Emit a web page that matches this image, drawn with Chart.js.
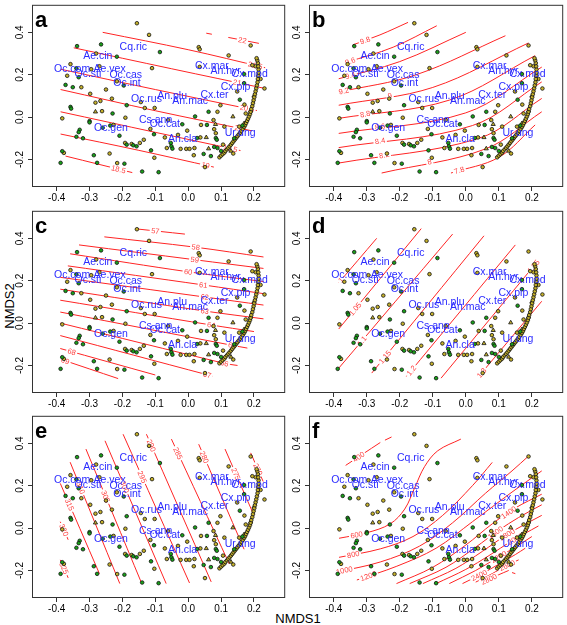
<!DOCTYPE html>
<html>
<head>
<meta charset="utf-8">
<script src="https://cdn.jsdelivr.net/npm/chart.js@4.4.0/dist/chart.umd.min.js"></script>
<style>
  body { margin: 0; background: #fff; width: 567px; height: 625px; position: relative; overflow: hidden; font-family: "Liberation Sans", Arial, sans-serif; }
  canvas { position: absolute; }
  .axlab { position: absolute; font-size: 13px; color: #000; white-space: nowrap; transform: translate(-50%, -50%); }
</style>
</head>
<body>
<div class="axlab" style="left:298px; top:618px;">NMDS1</div>
<div class="axlab" style="left:9px; top:306px; transform: translate(-50%, -50%) rotate(-90deg);">NMDS2</div>
<script>
// site scores (same in every panel)
const greenPts = [[-0.086,0.307],[-0.338,0.335],[-0.265,0.343],[-0.217,0.285],[-0.333,0.188],[-0.34,0.23],[-0.373,0.152],[-0.351,0.141],[-0.196,0.149],[-0.187,0.056],[-0.358,0.048],[-0.356,0.04],[-0.23,0.017],[-0.3,-0.019],[-0.3,-0.025],[-0.33,-0.06],[-0.333,-0.071],[-0.34,-0.093],[-0.32,-0.1],[-0.26,-0.05],[-0.237,-0.04],[-0.209,-0.088],[-0.187,-0.13],[-0.167,-0.133],[-0.157,-0.138],[-0.383,-0.161],[-0.388,-0.216],[-0.287,-0.18],[-0.277,-0.216],[-0.194,-0.22],[-0.14,-0.257],[-0.09,-0.26],[-0.113,-0.157],[-0.104,-0.081],[-0.053,-0.122],[-0.051,-0.138],[-0.048,-0.149],[-0.018,-0.034],[0.021,0.003],[0.057,-0.037],[0.027,-0.099],[0.047,-0.174],[0.069,-0.184],[0.17,0.203],[0.17,0.16],[0.157,0.082],[0.062,0.025],[0.084,-0.099],[0.087,-0.107],[0.079,-0.141],[0.089,-0.146],[0.1,-0.16],[0.14,-0.1],[0.165,-0.04]];
const olivePts = [[-0.156,0.443],[-0.119,0.388],[-0.11,0.231],[-0.28,0.3],[-0.358,0.25],[-0.368,0.195],[-0.325,0.141],[-0.27,0.24],[-0.295,0.226],[-0.25,0.13],[-0.217,0.169],[-0.298,0.11],[-0.267,0.076],[-0.282,0.068],[-0.232,0.087],[-0.262,0.028],[-0.383,-0.006],[-0.191,-0.003],[-0.227,-0.037],[-0.192,-0.122],[-0.172,-0.127],[-0.147,-0.122],[-0.135,-0.107],[-0.378,-0.169],[-0.239,-0.172],[-0.216,-0.217],[-0.103,-0.192],[-0.132,0.043],[-0.144,0.071],[-0.102,0.043],[-0.061,-0.014],[-0.115,-0.056],[-0.071,-0.096],[-0.065,-0.146],[-0.003,-0.064],[-0.031,-0.084],[-0.023,-0.15],[-0.006,-0.15],[0.004,-0.15],[0.019,-0.146],[0.039,-0.037],[0.037,-0.096],[0.017,-0.18],[0.051,-0.236],[0.032,0.33],[0.035,0.32],[0.035,0.237],[0.123,0.291],[0.19,0.338],[0.149,0.121],[0.098,0.056],[0.171,0.059],[0.089,0.025],[0.077,-0.014],[0.079,-0.057],[0.084,-0.076],[0.11,-0.045],[0.106,-0.13],[0.137,-0.172],[0.155,-0.045],[0.175,0.017],[0.205,0.24],[0.195,0.245],[0.22,0.18],[0.232,0.135]];
const chainPts = [[0.095,-0.19],[0.1,-0.182],[0.105,-0.175],[0.11,-0.168],[0.113,-0.16],[0.118,-0.152],[0.122,-0.145],[0.126,-0.138],[0.13,-0.13],[0.134,-0.122],[0.138,-0.114],[0.142,-0.106],[0.146,-0.098],[0.15,-0.09],[0.154,-0.082],[0.158,-0.074],[0.162,-0.065],[0.166,-0.056],[0.17,-0.047],[0.173,-0.038],[0.176,-0.028],[0.179,-0.018],[0.182,-0.008],[0.185,0.003],[0.188,0.014],[0.19,0.025],[0.192,0.038],[0.195,0.052],[0.197,0.066],[0.199,0.08],[0.201,0.094],[0.203,0.108],[0.205,0.122],[0.207,0.136],[0.209,0.15],[0.211,0.165],[0.212,0.18],[0.213,0.195],[0.214,0.21],[0.214,0.225],[0.213,0.24],[0.212,0.255],[0.21,0.268],[0.208,0.278]];
const triPts = [[-0.282,0.025],[0.055,-0.096],[0.062,-0.149],[0.083,-0.034],[0.136,0.002],[0.19,0.03],[0.17,-0.03],[0.2,0.1],[0.13,-0.16]];

// species scores
const speciesNames = ['Cq.ric','Ae.cin','Oc.com','Ae.vex','Oc.sti','Oc.cas','Oc.int','Cx.mar','An.hyr','Cx.mod','Cx.pip','Cx.ter','An.plu','An.mac','Oc.rus','Cs.ann','Oc.cat','Oc.gen','An.cla','Ur.ung'];
const speciesX = [-0.167,-0.275,-0.353,-0.239,-0.305,-0.19,-0.186,0.072,0.114,0.187,0.144,0.08,-0.049,0.006,-0.127,-0.099,-0.071,-0.235,-0.017,0.158];
const speciesY = [0.332,0.288,0.226,0.226,0.203,0.2,0.161,0.242,0.216,0.203,0.141,0.102,0.098,0.074,0.084,-0.014,-0.034,-0.053,-0.102,-0.076];

const xTicks = [-0.4,-0.3,-0.2,-0.1,0,0.1,0.2];
const yTicks = [-0.2,0,0.2,0.4];

// fitted surfaces (contour levels, lines, label x position)
const levelsA = ['22','21.5','21','20.5','20','19.5','19','18.5'];
const linesA = [
  [[0.055,0.396],[0.072,0.391],null,[0.122,0.376],[0.215,0.348]],
  [[-0.26,0.4],[0.0,0.318],[0.234,0.233]],
  [[-0.348,0.327],[-0.05,0.228],[0.231,0.136]],
  [[-0.388,0.226],[-0.1,0.13],[0.209,0.031]],
  [[-0.388,0.13],[-0.1,0.03],[0.194,-0.065]],
  [[-0.388,0.025],[-0.1,-0.072],[0.159,-0.158]],
  [[-0.388,-0.08],[-0.15,-0.157],[0.078,-0.236]],
  [[-0.373,-0.184],[-0.17,-0.262]]
];
const labXA = [0.165,0.204,0.149,0.179,0.154,0.128,0.053,-0.212];

const levelsB = ['9.8','9.6','9.4','9.2','9','8.8','8.6','8.4','8.2','8','7.8'];
const linesB = [
  [[-0.342,0.341],[-0.26,0.388],[-0.175,0.447]],
  [[-0.36,0.259],[-0.22,0.33],[-0.088,0.431]],
  [[-0.385,0.181],[-0.2,0.262],[0.0,0.4]],
  [[-0.385,0.118],[-0.15,0.2],[0.12,0.384]],
  [[-0.385,0.056],[-0.1,0.14],[0.19,0.35]],
  [[-0.385,-0.006],[-0.05,0.08],[0.21,0.29]],
  [[-0.385,-0.077],[0.0,0.02],[0.23,0.236]],
  [[-0.385,-0.144],[0.02,-0.04],[0.23,0.166]],
  [[-0.385,-0.217],[0.04,-0.1],[0.23,0.088]],
  [[-0.255,-0.264],[0.06,-0.15],[0.23,0.025]],
  [[-0.045,-0.264],[0.1,-0.19],[0.21,-0.037]]
];
const labXB = [-0.305,-0.35,-0.35,-0.37,-0.23,-0.305,-0.26,-0.26,-0.247,-0.11,-0.02];

const levelsC = ['57','58','59','60','61','62','63','64','65','66','67','68','69'];
const linesC = [
  [[-0.16,0.445],[-0.01,0.42]],
  [[-0.255,0.407],[0.023,0.358],[0.229,0.312]],
  [[-0.332,0.369],[0.02,0.299],[0.229,0.258]],
  [[-0.359,0.327],[0.0,0.242],[0.229,0.196]],
  [[-0.366,0.27],[0.046,0.18],[0.229,0.139]],
  [[-0.389,0.216],[0.05,0.123],[0.229,0.085]],
  [[-0.389,0.16],[0.05,0.057],[0.229,0.02]],
  [[-0.389,0.108],[0.07,-0.009],[0.2,-0.04]],
  [[-0.389,0.052],[0.134,-0.105],[0.18,-0.118]],
  [[-0.389,0.0],[0.11,-0.19],[0.15,-0.2]],
  [[-0.389,-0.059],[0.058,-0.244],[0.075,-0.25]],
  [[-0.389,-0.12],[-0.1,-0.245]],
  [[-0.389,-0.17],[-0.213,-0.262]]
];
const labXC = [-0.1,0.023,0.02,0.0,0.046,0.05,0.05,0.07,0.134,0.11,0.058,-0.354,-0.374];

const levelsD = ['1','1.05','1.1','1.15','1.2','1.25','1.3'];
const linesD = [
  [[-0.385,0.19],[-0.27,0.4]],
  [[-0.385,-0.028],[-0.135,0.446]],
  [[-0.385,-0.213],[-0.04,0.42]],
  [[-0.285,-0.236],[0.055,0.412]],
  [[-0.18,-0.252],[0.15,0.369]],
  [[-0.075,-0.26],[0.22,0.296]],
  [[0.04,-0.25],[0.23,0.103]]
];
const labXD = [-0.378,-0.335,-0.315,-0.245,-0.165,0.205,0.048];

const levelsE = ['270','275','280','285','290','295','300','305','310','315','320','325'];
const linesE = [
  [[0.19,0.355],[0.228,0.22]],
  [[0.112,0.373],[0.2,0.06]],
  [[0.032,0.396],[0.17,-0.1]],
  [[-0.051,0.42],[0.125,-0.169]],
  [[-0.127,0.443],[0.07,-0.254]],
  [[-0.198,0.443],[0.004,-0.259]],
  [[-0.253,0.412],[-0.067,-0.262]],
  [[-0.311,0.373],[-0.142,-0.259]],
  [[-0.359,0.311],[-0.208,-0.262]],
  [[-0.389,0.211],[-0.27,-0.215]],
  [[-0.389,0.03],[-0.365,-0.055]],
  [[-0.389,-0.15],[-0.365,-0.235]]
];
const labXE = [0.212,0.145,0.049,-0.031,-0.112,-0.14,-0.193,-0.251,-0.327,-0.361,-0.378,-0.378];

const levelsF = ['400','600','800','1000','1200','1400','1600','1800','2000','2200','2400','2600','2800'];
const linesF = [
  [[-0.364,0.296],[-0.259,0.404],null,[-0.245,0.415],[-0.225,0.43]],
  [[-0.384,-0.048],[-0.3,-0.022],[-0.229,0.02],[-0.185,0.09],[-0.155,0.19],[-0.125,0.29],[-0.085,0.365],[-0.015,0.42]],
  [[-0.384,-0.138],[-0.259,-0.098],[-0.16,-0.04],[-0.07,0.06],[0.02,0.2],[0.08,0.31]],
  [[-0.389,-0.207],[-0.259,-0.16],[-0.14,-0.085],[-0.04,0.025],[0.06,0.165],[0.14,0.27],[0.19,0.34]],
  [[-0.33,-0.245],[-0.209,-0.18],[-0.09,-0.095],[0.02,0.03],[0.14,0.17],[0.23,0.27]],
  [[-0.21,-0.262],[-0.1,-0.185],[0.0,-0.08],[0.08,0.02],[0.15,0.095],[0.23,0.16]],
  [[-0.17,-0.262],[-0.06,-0.185],[0.03,-0.09],[0.1,-0.01],[0.16,0.05],[0.23,0.11]],
  [[-0.13,-0.262],[-0.03,-0.19],[0.05,-0.11],[0.12,-0.035],[0.17,0.01],[0.23,0.06]],
  [[-0.09,-0.262],[0.0,-0.195],[0.07,-0.13],[0.14,-0.06],[0.22,0.01]],
  [[-0.05,-0.262],[0.03,-0.2],[0.09,-0.145],[0.15,-0.09],[0.2,-0.04]],
  [[-0.01,-0.262],[0.05,-0.215],[0.1,-0.17],[0.15,-0.125],[0.18,-0.095]],
  [[0.03,-0.255],[0.08,-0.215],[0.12,-0.18],[0.16,-0.15]],
  [[0.065,-0.245],[0.1,-0.22],[0.13,-0.2],null,[0.14,-0.21],[0.15,-0.215]]
];
const labXF = [-0.325,-0.331,-0.341,-0.368,-0.295,0.13,0.09,0.125,0.15,0.1,0.04,0.125,0.07];

const XMIN = -0.475, XMAX = 0.295, YMIN = -0.33, YMAX = 0.53;
const FONT = '"Liberation Sans", Arial, sans-serif';
const RED = '#ff2424';

const panels = [
  { letter: 'a', box: [32, 2, 288, 187], levels: levelsA, lines: linesA, labX: labXA },
  { letter: 'b', box: [309, 2, 566, 187], levels: levelsB, lines: linesB, labX: labXB },
  { letter: 'c', box: [32, 208, 288, 393], levels: levelsC, lines: linesC, labX: labXC },
  { letter: 'd', box: [309, 208, 566, 393], levels: levelsD, lines: linesD, labX: labXD },
  { letter: 'e', box: [32, 413, 288, 598], levels: levelsE, lines: linesE, labX: labXE },
  { letter: 'f', box: [309, 413, 566, 598], levels: levelsF, lines: linesF, labX: labXF }
];

const toXY = arr => arr.map(([x, y]) => ({ x, y }));

// split a contour at null entries into pieces
function pieces(line) {
  const out = [];
  let cur = [];
  line.forEach(p => {
    if (p === null) { if (cur.length) out.push(cur); cur = []; }
    else cur.push(p);
  });
  if (cur.length) out.push(cur);
  return out;
}

// find position + segment on a contour for a label at data x
function labelSpot(line, x) {
  const pts = line.filter(p => p !== null);
  let i = 0;
  while (i < pts.length - 2 && x > pts[i + 1][0]) i++;
  const a = pts[i], b = pts[i + 1];
  const t = Math.max(0, Math.min(1, (x - a[0]) / (b[0] - a[0])));
  return { x: a[0] + t * (b[0] - a[0]), y: a[1] + t * (b[1] - a[1]), a, b };
}

function makePlugin(p) {
  return {
    id: 'panelDeco' + p.letter,
    beforeDatasetDraw(chart, args) {
      if (args.index !== 2) return;
      const ctx = chart.ctx, xs = chart.scales.x, ys = chart.scales.y;
      ctx.save();
      ctx.font = '7.5px ' + FONT;
      ctx.textAlign = 'center';
      ctx.textBaseline = 'middle';
      p.levels.forEach((lev, i) => {
        const s = labelSpot(p.lines[i], p.labX[i]);
        const px = xs.getPixelForValue(s.x), py = ys.getPixelForValue(s.y);
        let ang = Math.atan2(ys.getPixelForValue(s.b[1]) - ys.getPixelForValue(s.a[1]),
                             xs.getPixelForValue(s.b[0]) - xs.getPixelForValue(s.a[0]));
        if (ang > Math.PI / 2) ang -= Math.PI;
        if (ang < -Math.PI / 2) ang += Math.PI;
        const w = ctx.measureText(lev).width;
        ctx.save();
        ctx.translate(px, py);
        ctx.rotate(ang);
        ctx.fillStyle = '#fff';
        ctx.fillRect(-w / 2 - 1.5, -3.5, w + 3, 7);
        ctx.fillStyle = '#ff4040';
        ctx.fillText(lev, 0, 0.5);
        ctx.restore();
      });
      ctx.restore();
    },
    afterDatasetsDraw(chart) {
      const ctx = chart.ctx, xs = chart.scales.x, ys = chart.scales.y;
      ctx.save();
      ctx.font = '10.5px ' + FONT;
      ctx.fillStyle = '#2b2bff';
      ctx.textAlign = 'center';
      ctx.textBaseline = 'middle';
      speciesNames.forEach((n, i) => {
        ctx.fillText(n, xs.getPixelForValue(speciesX[i]), ys.getPixelForValue(speciesY[i]));
      });
      ctx.restore();
    },
    afterDraw(chart) {
      const ctx = chart.ctx, ca = chart.chartArea, ys = chart.scales.y;
      ctx.save();
      ctx.strokeStyle = '#333';
      ctx.lineWidth = 1;
      ctx.strokeRect(ca.left + 0.5, ca.top + 0.5, ca.right - ca.left - 1, ca.bottom - ca.top - 1);
      ctx.fillStyle = '#000';
      ctx.font = '10px ' + FONT;
      ctx.textAlign = 'center';
      ctx.textBaseline = 'middle';
      yTicks.forEach(v => {
        ctx.save();
        ctx.translate(ca.left - 12, ys.getPixelForValue(v));
        ctx.rotate(-Math.PI / 2);
        ctx.fillText(v.toFixed(1), 0, 0);
        ctx.restore();
      });
      ctx.font = 'bold 22px ' + FONT;
      ctx.textAlign = 'left';
      ctx.textBaseline = 'alphabetic';
      ctx.fillText(p.letter, ca.left + 3, ca.top + 22);
      ctx.restore();
    }
  };
}

function makeChart(p) {
  const [l, t, r, b] = p.box;
  const W = r - l + 34, H = b - t + 24;
  const cv = document.createElement('canvas');
  cv.width = W; cv.height = H;
  cv.style.width = W + 'px'; cv.style.height = H + 'px';
  cv.style.left = (l - 32) + 'px'; cv.style.top = (t - 2) + 'px';
  document.body.appendChild(cv);

  const datasets = [
    { data: toXY(greenPts), backgroundColor: '#19a019', borderColor: '#111', borderWidth: 0.8, pointRadius: 1.8 },
    { data: toXY(olivePts.concat(chainPts)), backgroundColor: '#c4b02a', borderColor: '#111', borderWidth: 0.8, pointRadius: 1.8 },
    { data: toXY(triPts), pointStyle: 'triangle', backgroundColor: '#c4b02a', borderColor: '#111', borderWidth: 0.8, pointRadius: 2.4 }
  ];
  p.lines.forEach(line => {
    pieces(line).forEach(piece => {
      datasets.push({
        data: toXY(piece), showLine: true, pointRadius: 0, borderColor: RED,
        borderWidth: 1, tension: 0.35, fill: false
      });
    });
  });

  new Chart(cv, {
    type: 'scatter',
    data: { datasets },
    options: {
      responsive: false,
      animation: false,
      events: [],
      layout: { padding: { top: 2, right: 2, left: 0, bottom: 0 } },
      scales: {
        x: {
          type: 'linear', min: XMIN, max: XMAX,
          afterFit: s => { s.height = 22; },
          afterBuildTicks: s => { s.ticks = xTicks.map(v => ({ value: v })); },
          ticks: { autoSkip: false, maxRotation: 0, padding: 1, color: '#000', font: { size: 10, family: FONT },
                   callback: v => v.toFixed(1) },
          grid: { drawOnChartArea: false, drawTicks: true, tickLength: 4, color: '#333' },
          border: { display: false }
        },
        y: {
          type: 'linear', min: YMIN, max: YMAX,
          afterFit: s => { s.width = 32; },
          afterBuildTicks: s => { s.ticks = yTicks.map(v => ({ value: v })); },
          ticks: { display: false },
          grid: { drawOnChartArea: false, drawTicks: true, tickLength: 4, color: '#333' },
          border: { display: false }
        }
      },
      plugins: { legend: { display: false }, tooltip: { enabled: false } }
    },
    plugins: [makePlugin(p)]
  });
}

panels.forEach(makeChart);
</script>
</body>
</html>
